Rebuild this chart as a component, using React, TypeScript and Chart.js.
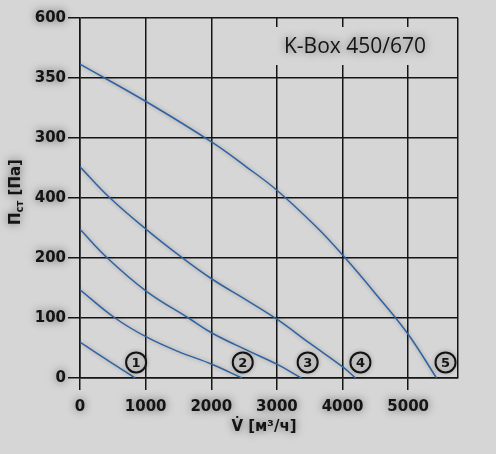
import { useEffect, useRef } from 'react';
import { Chart, registerables } from 'chart.js';

Chart.register(...registerables);

// ---- data ----
const curve1X = [0, 300, 600, 840];
const curve1Y = [60, 38, 17, 0];
const curve2X = [0, 534, 1018, 1500, 2010, 2467];
const curve2Y = [147, 100, 68, 44, 23, 0];
const curve3X = [0, 407, 1018, 1653, 2010, 2550, 3000, 3372];
const curve3Y = [248, 201, 144, 100, 75, 46, 23, 0];
const curve4X = [0, 458, 1018, 1552, 2010, 2550, 3000, 3500, 4009, 4200];
const curve4Y = [352, 300, 247, 201, 165, 129, 98, 58, 18, 0];
const curve5X = [0, 1018, 2010, 2533, 3000, 3600, 4009, 4500, 5000, 5433];
const curve5Y = [523, 460, 393, 352, 313, 252, 204, 141, 73, 0];

const markerX = [855, 2480, 3469, 4273, 5570];
const markerY = [26, 26, 26, 26, 26];
const markerLabels = ['1', '2', '3', '4', '5'];

// y tick labels as printed on the chart, bottom to top (one per gridline)
const yTickLabels = ['0', '100', '200', '400', '300', '350', '600'];
const xTickValues = [0, 1000, 2000, 3000, 4000, 5000];
const xTickLabels = ['0', '1000', '2000', '3000', '4000', '5000'];

const chartTitle = 'K-Box 450/670';
const xTitle = 'V\u0307 [м³/ч]';
const yTitleMain = 'П';
const yTitleSub = 'ст';
const yTitleRest = ' [Па]';

const X_MAX = 5760;
const Y_MAX = 600;

const BLUE = '#2f62a3';
const INK = '#141414';
const BG = '#d6d6d6';
const FONT = '"DejaVu Sans", sans-serif';

export default function App() {
  const ref = useRef<HTMLCanvasElement>(null);

  useEffect(() => {
    document.body.style.margin = '0';
    const canvas = ref.current!;
    const pts = (xs: number[], ys: number[]) => xs.map((x, i) => ({ x, y: ys[i] }));
    const curves = [
      [curve1X, curve1Y],
      [curve2X, curve2Y],
      [curve3X, curve3Y],
      [curve4X, curve4Y],
      [curve5X, curve5Y],
    ];

    const shadow = (ctx: CanvasRenderingContext2D, a: number, b: number) => {
      ctx.shadowColor = `rgba(0,0,0,${a})`;
      ctx.shadowBlur = b;
      ctx.shadowOffsetX = 0;
      ctx.shadowOffsetY = 0;
    };
    const textShadow = (ctx: CanvasRenderingContext2D) => shadow(ctx, 0.55, 8);

    const decor = {
      id: 'decor',
      beforeDraw(chart: any) {
        const ctx = chart.ctx as CanvasRenderingContext2D;
        shadow(ctx, 0, 0);
        ctx.fillStyle = BG;
        ctx.fillRect(0, 0, chart.width, chart.height);
      },
      beforeDatasetsDraw(chart: any) {
        shadow(chart.ctx, 0.3, 4);
      },
      afterDatasetsDraw(chart: any) {
        const ctx = chart.ctx as CanvasRenderingContext2D;
        const area = chart.chartArea;
        ctx.save();
        // title box
        shadow(ctx, 0, 0);
        ctx.fillStyle = BG;
        ctx.fillRect(area.right - 188, area.top + 9, 172, 38);
        textShadow(ctx);
        ctx.fillStyle = INK;
        ctx.font = '21px "Open Sans", sans-serif';
        ctx.textAlign = 'center';
        ctx.textBaseline = 'middle';
        ctx.fillText(chartTitle, area.right - 103, area.top + 29);

        // marker numbers
        const meta = chart.getDatasetMeta(5);
        ctx.font = 'bold 13px ' + FONT;
        meta.data.forEach((el: any, i: number) => {
          ctx.fillText(markerLabels[i], el.x, el.y + 1);
        });

        // x axis title
        ctx.font = 'bold 15px ' + FONT;
        ctx.fillText(xTitle, (area.left + area.right) / 2 - 5, 427);

        // y axis title with subscript
        ctx.translate(15, 192);
        ctx.rotate(-Math.PI / 2);
        const fMain = 'bold 15px ' + FONT;
        const fSub = 'bold 10px ' + FONT;
        ctx.font = fMain;
        const w1 = ctx.measureText(yTitleMain).width;
        const w3 = ctx.measureText(yTitleRest).width;
        ctx.font = fSub;
        const w2 = ctx.measureText(yTitleSub).width;
        let x = -(w1 + w2 + w3) / 2;
        ctx.textAlign = 'left';
        ctx.textBaseline = 'alphabetic';
        ctx.font = fMain;
        ctx.fillText(yTitleMain, x, 5);
        x += w1;
        ctx.font = fSub;
        ctx.fillText(yTitleSub, x, 8);
        x += w2;
        ctx.font = fMain;
        ctx.fillText(yTitleRest, x, 5);
        ctx.restore();
        // tick labels (z: 1 layers) are drawn after this with a text glow
        textShadow(ctx);
      },
    };

    const chart = new Chart(canvas, {
      type: 'line',
      data: {
        datasets: [
          ...curves.map(([xs, ys]) => ({
            type: 'line' as const,
            data: pts(xs, ys),
            borderColor: BLUE,
            borderWidth: 1.5,
            pointRadius: 0,
            tension: 0.4,
            fill: false,
          })),
          {
            type: 'scatter' as const,
            data: pts(markerX, markerY),
            pointRadius: 10,
            pointHoverRadius: 10,
            pointBorderWidth: 2,
            pointBorderColor: INK,
            pointBackgroundColor: 'rgba(0,0,0,0)',
          },
        ],
      },
      options: {
        responsive: false,
        animation: false,
        events: [],
        layout: { padding: { left: 0, right: 38, top: 18, bottom: 0 } },
        plugins: {
          legend: { display: false },
          tooltip: { enabled: false },
          title: { display: false },
        },
        scales: {
          x: {
            type: 'linear',
            min: 0,
            max: X_MAX,
            afterFit: (s: any) => { s.height = 76; },
            afterBuildTicks: (s: any) => {
              s.ticks = [...xTickValues, X_MAX].map((v) => ({ value: v }));
            },
            ticks: {
              z: 1,
              autoSkip: false,
              maxRotation: 0,
              padding: 8,
              color: INK,
              font: { family: FONT, size: 15, weight: 'bold' },
              callback: (v: any) => {
                const i = xTickValues.indexOf(v);
                return i >= 0 ? xTickLabels[i] : '';
              },
            },
            grid: {
              color: INK,
              lineWidth: 1.5,
              tickLength: 12,
              tickColor: (c: any) => (c.tick && xTickValues.indexOf(c.tick.value) < 0 ? 'rgba(0,0,0,0)' : INK),
            },
            border: { display: true, color: INK, width: 1.5 },
            title: { display: false },
          },
          y: {
            type: 'linear',
            min: 0,
            max: Y_MAX,
            afterFit: (s: any) => { s.width = 80; },
            ticks: {
              z: 1,
              stepSize: 100,
              padding: 2,
              color: INK,
              font: { family: FONT, size: 15, weight: 'bold' },
              callback: (v: any) => yTickLabels[Math.round(v / 100)] ?? '',
            },
            grid: { color: INK, lineWidth: 1.5, tickLength: 12, tickColor: INK },
            border: { display: true, color: INK, width: 1.5 },
          },
        },
      },
      plugins: [decor],
    } as any);

    return () => chart.destroy();
  }, []);

  return <canvas ref={ref} width={496} height={454} style={{ display: 'block' }} />;
}
